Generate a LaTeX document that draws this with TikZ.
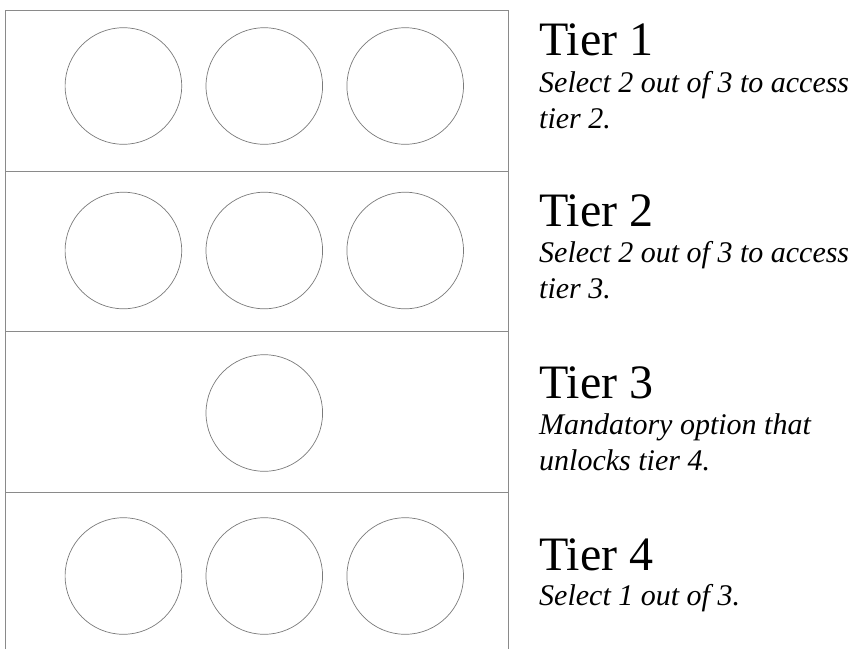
\documentclass[tikz,border=0pt]{standalone}
\usepackage{fontspec}
\setmainfont{Liberation Serif}
\usetikzlibrary{positioning}
\definecolor{frameGray}{HTML}{8A8A8A}
\definecolor{ringGray}{HTML}{7A7A7A}

\begin{document}
\begin{tikzpicture}[x=1pt,y=-1pt,
    slot/.style={draw=ringGray,line width=0.7pt,circle,minimum size=116.6pt,inner sep=0pt},
    rule/.style={draw=frameGray,line width=0.8pt},
    tiertitle/.style={anchor=base west,inner sep=0pt,font=\fontsize{48}{58}\selectfont},
    tiernote/.style={anchor=base west,inner sep=0pt,text width=318pt,align=flush left,
      font=\itshape\fontsize{30}{36}\selectfont}]
    \useasboundingbox (0,0) rectangle (859,649);
    % frame of the four tiers
    \coordinate (lb) at (5,649);
    \coordinate (lt) at (5,10.7);
    \coordinate (rt) at (508,10.7);
    \coordinate (rb) at (508,649);
    \draw[rule] (lb) -- (lt) -- (rt) -- (rb);
    \foreach \y [count=\k] in {171,331.7,492} {
      \coordinate (sl\k) at (5,\y);
      \coordinate (sr\k) at (508,\y);
      \draw[rule] (sl\k) -- (sr\k);
    }
    % option slots
    \foreach \x [count=\i] in {123.4,264.3,405.2} {
      \node[slot] (a\i) at (\x,86) {};
      \node[slot] (b\i) at (\x,250.5) {};
      \node[slot] (d\i) at (\x,576) {};
    }
    \node[slot] (c2) at (264.3,413) {};
    % tier labels
    \node[tiertitle] (t1) at (539,55) {Tier 1};
    \node[tiernote] (n1) at (539,92) {Select 2 out of 3 to access\\tier 2.};
    \node[tiertitle] (t2) at (539,226) {Tier 2};
    \node[tiernote] (n2) at (539,262) {Select 2 out of 3 to access\\tier 3.};
    \node[tiertitle] (t3) at (539,398) {Tier 3};
    \node[tiernote] (n3) at (539,434) {Mandatory option that\\unlocks tier 4.};
    \node[tiertitle] (t4) at (539,570) {Tier 4};
    \node[tiernote] (n4) at (539,605) {Select 1 out of 3.};
  \end{tikzpicture}
\end{document}
